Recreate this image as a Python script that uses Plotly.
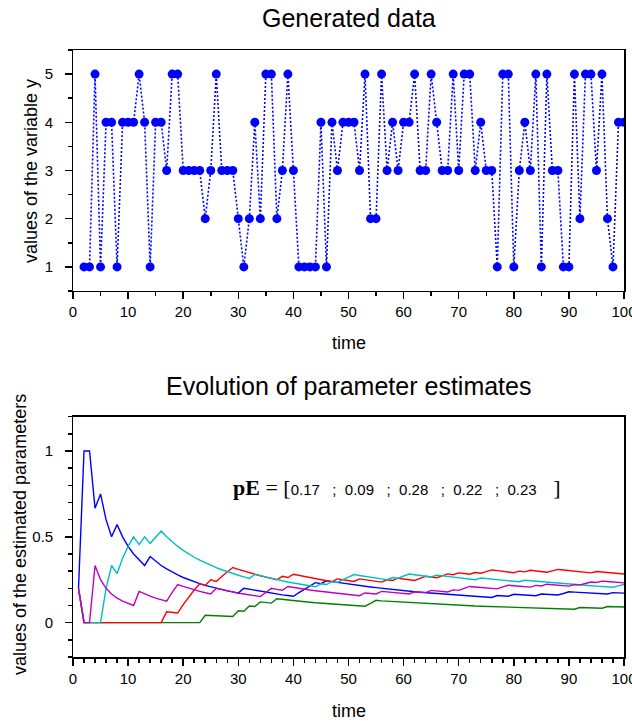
import plotly.graph_objects as go

# ---------------- data ----------------
time_obs = list(range(2, 101))
y_obs = [1, 1, 5, 1, 4, 4, 1, 4, 4, 4, 5, 4, 1, 4, 4, 3, 5, 5, 3,   # t=2..20
         3, 3, 3, 2, 3, 5, 3, 3, 3, 2,                            # t=21..30
         1, 2, 4, 2, 5, 5, 2, 3, 5, 3,                            # t=31..40
         1, 1, 1, 1, 4, 1, 4, 3, 4, 4,                            # t=41..50
         4, 3, 5, 2, 2, 5, 3, 4, 3, 4,                            # t=51..60
         4, 5, 3, 3, 5, 4, 3, 3, 5, 3,                            # t=61..70
         5, 5, 3, 4, 3, 3, 1, 5, 5, 1,                            # t=71..80
         3, 4, 3, 5, 1, 5, 3, 3, 1, 1,                            # t=81..90
         5, 2, 5, 5, 3, 5, 2, 1, 4, 4]                            # t=91..100

time_est = list(range(1, 101))
p1_est = [0.2, 1, 1, 0.667, 0.75, 0.6, 0.5, 0.571, 0.5, 0.444,
          0.4, 0.364, 0.333, 0.385, 0.357, 0.333, 0.313, 0.294, 0.278, 0.263,
          0.25, 0.238, 0.227, 0.217, 0.208, 0.2, 0.192, 0.185, 0.179, 0.172,
          0.2, 0.194, 0.188, 0.182, 0.176, 0.171, 0.167, 0.162, 0.158, 0.154,
          0.175, 0.195, 0.214, 0.233, 0.227, 0.244, 0.239, 0.234, 0.229, 0.224,
          0.22, 0.216, 0.212, 0.208, 0.204, 0.2, 0.196, 0.193, 0.19, 0.186,
          0.183, 0.18, 0.177, 0.175, 0.172, 0.169, 0.167, 0.164, 0.162, 0.159,
          0.157, 0.155, 0.153, 0.151, 0.149, 0.147, 0.158, 0.156, 0.154, 0.165,
          0.163, 0.16, 0.159, 0.157, 0.167, 0.165, 0.163, 0.161, 0.17, 0.18,
          0.178, 0.176, 0.174, 0.172, 0.17, 0.168, 0.167, 0.175, 0.173, 0.172]
p2_est = [0.2, 0, 0, 0, 0, 0, 0, 0, 0, 0,
          0, 0, 0, 0, 0, 0, 0, 0, 0, 0,
          0, 0, 0, 0.043, 0.042, 0.04, 0.038, 0.037, 0.036, 0.069,
          0.067, 0.097, 0.094, 0.121, 0.118, 0.114, 0.139, 0.135, 0.132, 0.128,
          0.125, 0.122, 0.119, 0.116, 0.114, 0.111, 0.109, 0.106, 0.104, 0.102,
          0.1, 0.098, 0.096, 0.113, 0.13, 0.127, 0.125, 0.123, 0.121, 0.119,
          0.117, 0.115, 0.113, 0.111, 0.109, 0.108, 0.106, 0.104, 0.103, 0.101,
          0.1, 0.099, 0.097, 0.096, 0.095, 0.093, 0.092, 0.091, 0.09, 0.089,
          0.088, 0.086, 0.085, 0.084, 0.083, 0.082, 0.081, 0.08, 0.08, 0.079,
          0.078, 0.088, 0.087, 0.086, 0.085, 0.084, 0.094, 0.093, 0.092, 0.091]
p3_est = [0.2, 0, 0, 0, 0, 0, 0, 0, 0, 0,
          0, 0, 0, 0, 0, 0, 0.063, 0.059, 0.056, 0.105,
          0.15, 0.19, 0.227, 0.217, 0.25, 0.24, 0.269, 0.296, 0.321, 0.31,
          0.3, 0.29, 0.281, 0.273, 0.265, 0.257, 0.25, 0.27, 0.263, 0.282,
          0.275, 0.268, 0.262, 0.256, 0.25, 0.244, 0.239, 0.255, 0.25, 0.245,
          0.24, 0.255, 0.25, 0.245, 0.241, 0.236, 0.25, 0.246, 0.259, 0.254,
          0.25, 0.246, 0.258, 0.27, 0.266, 0.262, 0.273, 0.284, 0.279, 0.29,
          0.286, 0.282, 0.292, 0.288, 0.297, 0.307, 0.303, 0.299, 0.295, 0.291,
          0.3, 0.296, 0.305, 0.301, 0.298, 0.294, 0.302, 0.31, 0.307, 0.303,
          0.3, 0.297, 0.293, 0.29, 0.298, 0.295, 0.292, 0.289, 0.286, 0.283]
p4_est = [0.2, 0, 0, 0, 0, 0.2, 0.333, 0.286, 0.375, 0.444,
          0.5, 0.455, 0.5, 0.462, 0.5, 0.533, 0.5, 0.471, 0.444, 0.421,
          0.4, 0.381, 0.364, 0.348, 0.333, 0.32, 0.308, 0.296, 0.286, 0.276,
          0.267, 0.258, 0.281, 0.273, 0.265, 0.257, 0.25, 0.243, 0.237, 0.231,
          0.225, 0.22, 0.214, 0.209, 0.227, 0.222, 0.239, 0.234, 0.25, 0.265,
          0.28, 0.275, 0.269, 0.264, 0.259, 0.255, 0.25, 0.263, 0.259, 0.271,
          0.283, 0.279, 0.274, 0.27, 0.266, 0.277, 0.273, 0.269, 0.265, 0.261,
          0.257, 0.254, 0.25, 0.26, 0.257, 0.253, 0.25, 0.247, 0.244, 0.241,
          0.238, 0.247, 0.244, 0.241, 0.238, 0.235, 0.233, 0.23, 0.227, 0.225,
          0.222, 0.22, 0.217, 0.215, 0.213, 0.211, 0.208, 0.206, 0.214, 0.222]
p5_est = [0.2, 0, 0, 0.333, 0.25, 0.2, 0.167, 0.143, 0.125, 0.111,
          0.1, 0.182, 0.167, 0.154, 0.143, 0.133, 0.125, 0.176, 0.222, 0.211,
          0.2, 0.19, 0.182, 0.174, 0.167, 0.2, 0.192, 0.185, 0.179, 0.172,
          0.167, 0.161, 0.156, 0.152, 0.176, 0.2, 0.194, 0.189, 0.211, 0.205,
          0.2, 0.195, 0.19, 0.186, 0.182, 0.178, 0.174, 0.17, 0.167, 0.163,
          0.16, 0.157, 0.173, 0.17, 0.167, 0.182, 0.179, 0.175, 0.172, 0.169,
          0.167, 0.18, 0.177, 0.175, 0.188, 0.185, 0.182, 0.179, 0.191, 0.188,
          0.2, 0.211, 0.208, 0.205, 0.203, 0.2, 0.197, 0.208, 0.218, 0.215,
          0.213, 0.21, 0.207, 0.217, 0.214, 0.224, 0.221, 0.218, 0.216, 0.213,
          0.222, 0.22, 0.228, 0.237, 0.234, 0.242, 0.24, 0.237, 0.235, 0.232]

y1_tickvals = [1, 2, 3, 4, 5]
y1_ticklabels = ["1", "2", "3", "4", "5"]
y2_tickvals = [0, 0.5, 1]
y2_ticklabels = ["0", "0.5", "1"]
final_labels = ["0.17", "0.09", "0.28", "0.22", "0.23"]
est_series = [p1_est, p2_est, p3_est, p4_est, p5_est]
est_colors = ["#0000ff", "#008000", "#ff0000", "#00bfbf", "#bf00bf"]

# ---------------- figure ----------------
SANS = "Liberation Sans, Arial, sans-serif"
NB = "\u00a0"
fig = go.Figure()

fig.add_trace(go.Scatter(
    x=time_obs, y=y_obs, mode="lines+markers",
    line=dict(color="#0000ff", width=1.6, dash="2px,2px"),
    marker=dict(color="#0000ff", size=9),
    xaxis="x", yaxis="y", showlegend=False, hoverinfo="skip"))

for vals, col in zip(est_series, est_colors):
    fig.add_trace(go.Scatter(
        x=time_est, y=vals, mode="lines",
        line=dict(color=col, width=1.4),
        xaxis="x2", yaxis="y2", showlegend=False, hoverinfo="skip"))

def axis(**kw):
    d = dict(showline=True, linecolor="black", linewidth=1.5, mirror=True,
             ticks="outside", ticklen=7, tickwidth=1.5, tickcolor="black",
             showgrid=False, zeroline=False, ticklabeloverflow="allow", automargin=False,
             tickfont=dict(family=SANS, size=15, color="black"))
    d.update(kw)
    return d

minor_x1 = dict(ticks="outside", ticklen=4, tickwidth=1.5, tickcolor="black", tick0=0, dtick=5, showgrid=False)
minor_x2 = dict(ticks="outside", ticklen=4, tickwidth=1.5, tickcolor="black", tick0=0, dtick=2, showgrid=False)
minor_y1 = dict(ticks="outside", ticklen=4, tickwidth=1.5, tickcolor="black", tick0=0.5, dtick=0.5, showgrid=False)
minor_y2 = dict(ticks="outside", ticklen=4, tickwidth=1.5, tickcolor="black", tick0=0, dtick=0.1, showgrid=False)

fig.update_layout(
    width=632, height=721,
    margin=dict(l=73, r=8, t=50, b=64, autoexpand=False),
    paper_bgcolor="white", plot_bgcolor="white",
    xaxis=axis(domain=[0, 1], anchor="y", range=[0, 100], tickmode="linear", tick0=0, dtick=10, minor=minor_x1),
    yaxis=axis(domain=[0.603, 1], anchor="x", range=[0.5, 5.5], tickmode="array",
               tickvals=y1_tickvals, ticktext=[t + NB * 2 for t in y1_ticklabels], minor=minor_y1),
    xaxis2=axis(domain=[0, 1], anchor="y2", range=[0, 100], tickmode="linear", tick0=0, dtick=10, minor=minor_x2),
    yaxis2=axis(domain=[0, 0.396], anchor="x2", range=[-0.2, 1.2], tickmode="array",
                tickvals=y2_tickvals, ticktext=[t + NB * 2 for t in y2_ticklabels], minor=minor_y2),
)

def px_to_paper_y(p):
    return (657 - p) / 607.0

def px_to_paper_x(p):
    return (p - 73) / 551.0

ann = []
ann.append(dict(text="Generated data", x=px_to_paper_x(348.5), y=px_to_paper_y(18),
                xref="paper", yref="paper", showarrow=False, xanchor="center", yanchor="middle",
                font=dict(family=SANS, size=25, color="black")))
ann.append(dict(text="Evolution of parameter estimates", x=px_to_paper_x(348.5), y=px_to_paper_y(386),
                xref="paper", yref="paper", showarrow=False, xanchor="center", yanchor="middle",
                font=dict(family=SANS, size=25, color="black")))
ann.append(dict(text="time", x=px_to_paper_x(348.5), y=px_to_paper_y(343),
                xref="paper", yref="paper", showarrow=False, xanchor="center", yanchor="middle",
                font=dict(family=SANS, size=18, color="black")))
ann.append(dict(text="time", x=px_to_paper_x(348.5), y=px_to_paper_y(711),
                xref="paper", yref="paper", showarrow=False, xanchor="center", yanchor="middle",
                font=dict(family=SANS, size=18, color="black")))
ann.append(dict(text="values of the variable y", x=px_to_paper_x(31), y=px_to_paper_y(171),
                xref="paper", yref="paper", showarrow=False, xanchor="center", yanchor="middle",
                textangle=-90, font=dict(family=SANS, size=18, color="black")))
ann.append(dict(text="values of the estimated parameters", x=px_to_paper_x(20), y=px_to_paper_y(535),
                xref="paper", yref="paper", showarrow=False, xanchor="center", yanchor="middle",
                textangle=-90, font=dict(family=SANS, size=18, color="black")))

serif = "font-family:'Liberation Serif','Times New Roman',serif;font-size:22px"
inner = (NB * 3 + ";" + NB * 2).join(final_labels) + NB * 4
pe_text = (f'<span style="{serif}"><b>pE</b>{NB}={NB}[</span>' + inner +
           f'<span style="{serif}">]</span>')
ann.append(dict(text=pe_text, x=58.8, y=0.785, xref="x2", yref="y2", showarrow=False,
                xanchor="center", yanchor="middle",
                font=dict(family=SANS, size=15, color="black")))

fig.update_layout(annotations=ann)
fig.write_html("out.html",
               config={"displayModeBar": False, "staticPlot": True},
               post_script="document.body.style.margin='0';document.body.style.overflow='hidden';")
